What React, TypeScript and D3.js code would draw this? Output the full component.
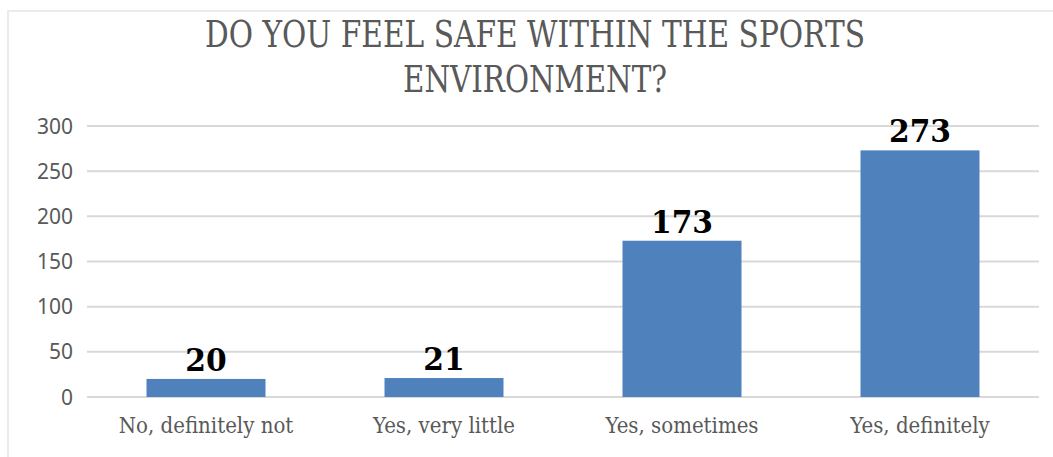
import React from "react";
import * as d3 from "d3";

const categories = ["No, definitely not", "Yes, very little", "Yes, sometimes", "Yes, definitely"];
const values = [20, 21, 173, 273];
const yTicks = [0, 50, 100, 150, 200, 250, 300];
const titleLines = ["DO YOU FEEL SAFE WITHIN THE SPORTS", "ENVIRONMENT?"];

const W = 1053;
const H = 457;

export default function App() {
  const x = d3.scaleBand<string>().domain(categories).range([87, 1039]).paddingInner(0.5).paddingOuter(0.25);
  const y = d3.scaleLinear().domain([0, 300]).range([397, 126]);

  const serif = "'DejaVu Serif', 'Liberation Serif', serif";

  return (
    <svg width={W} height={H} style={{ position: "absolute", left: 0, top: 0, background: "#fff" }}>
      <rect x={0} y={0} width={W} height={H} fill="#fff" />
      {/* chart border */}
      <path d={`M8,${H} V11 H${W}`} fill="none" stroke="#EBEBEB" strokeWidth={2} />

      {/* title */}
      <text x={535} y={47} textAnchor="middle" fontFamily={serif} fontSize={37} fill="#595959"
        textLength={660} lengthAdjust="spacingAndGlyphs">{titleLines[0]}</text>
      <text x={535} y={92} textAnchor="middle" fontFamily={serif} fontSize={37} fill="#595959"
        textLength={264} lengthAdjust="spacingAndGlyphs">{titleLines[1]}</text>

      {/* gridlines and y labels */}
      {yTicks.map((t) => (
        <g key={t}>
          <line x1={87} x2={1039} y1={y(t)} y2={y(t)} stroke="#D9D9D9" strokeWidth={2} />
          <text x={73} y={y(t)} dy="0.36em" textAnchor="end" fontFamily="'Noto Sans', sans-serif"
            fontSize={21} fill="#595959">{t}</text>
        </g>
      ))}

      {/* bars */}
      {categories.map((c, i) => (
        <rect key={c} x={x(c)} y={y(values[i])} width={x.bandwidth()} height={y(0) - y(values[i])} fill="#4F81BD" />
      ))}

      {/* value labels */}
      {categories.map((c, i) => (
        <text key={c + "v"} x={(x(c) as number) + x.bandwidth() / 2} y={y(values[i]) - 8} textAnchor="middle"
          fontFamily={serif} fontWeight="bold" fontSize={32} fill="#000"
          textLength={String(values[i]).length * 20.7} lengthAdjust="spacingAndGlyphs">{values[i]}</text>
      ))}

      {/* category labels */}
      {categories.map((c) => (
        <text key={c + "c"} x={(x(c) as number) + x.bandwidth() / 2} y={433} textAnchor="middle"
          fontFamily={serif} fontSize={22} fontStretch="condensed" fill="#595959">{c}</text>
      ))}
    </svg>
  );
}
